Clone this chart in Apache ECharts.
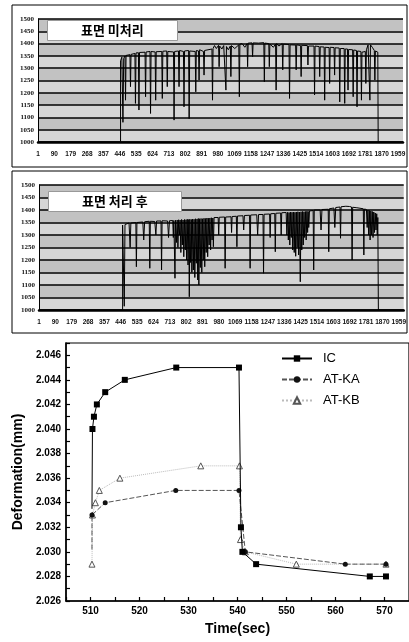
<!DOCTYPE html>
<html><head><meta charset="utf-8">
<script src="https://cdn.jsdelivr.net/npm/echarts@6/dist/echarts.min.js"></script>
<style>html,body{margin:0;padding:0;background:#fff}#c{width:409px;height:642px}</style>
</head><body><div id="c"></div>
<script>
// ---- Panel tick labels (Excel category labels, every 89 samples) ----
const panelXLabels = ['1','90','179','268','357','446','535','624','713','802','891','980','1069','1158','1247','1336','1425','1514','1603','1692','1781','1870','1959'];
const panelTitles = ['표면 미처리', '표면 처리 후'];

// ---- Panel 1: 표면 미처리 (sample index, value) ----
const untreated = [
[0,1000],[449,1000],[449,1330],[456,1345],[462,1080],[466,1340],
[473,1350],[476,1170],[479,1352],[500,1355],[503,1225],[506,1356],
[527,1360],[530,1157],[533,1362],[546,1363],[549,1130],[552,1364],
[582,1365],[585,1184],[588,1366],[609,1368],[612,1116],[615,1368],
[637,1366],[640,1170],[643,1367],[673,1368],[676,1177],[679,1369],
[700,1370],[703,1225],[706,1368],[737,1366],[740,1089],[743,1368],
[764,1370],[767,1225],[770,1372],[791,1368],[794,1143],[797,1370],
[819,1372],[822,1095],[825,1370],[855,1368],[858,1204],[861,1372],
[873,1370],[876,1252],[879,1375],[900,1368],[903,1272],[906,1372],
[946,1378],[949,1170],[952,1380],[960,1392],[970,1380],[982,1393],
[985,1306],[988,1390],[1000,1378],[1010,1392],[1019,1385],[1022,1211],
[1025,1388],[1035,1375],[1046,1390],[1049,1266],[1052,1392],[1070,1380],
[1092,1395],[1095,1184],[1098,1398],[1110,1400],[1125,1385],[1137,1400],
[1140,1306],[1143,1402],[1164,1403],[1167,1347],[1170,1403],[1200,1402],
[1228,1404],[1231,1245],[1234,1402],[1255,1400],[1258,1306],[1261,1398],
[1280,1385],[1292,1398],[1295,1211],[1298,1400],[1310,1390],[1328,1400],
[1331,1293],[1334,1398],[1365,1396],[1368,1177],[1371,1395],[1401,1394],
[1404,1293],[1407,1395],[1428,1392],[1431,1266],[1434,1393],[1465,1392],
[1468,1313],[1471,1390],[1501,1390],[1504,1191],[1507,1390],[1529,1388],
[1532,1266],[1535,1387],[1556,1386],[1559,1170],[1562,1385],[1583,1384],
[1586,1238],[1589,1385],[1610,1384],[1613,1272],[1616,1383],[1638,1382],
[1641,1163],[1644,1380],[1665,1380],[1668,1157],[1671,1378],[1683,1378],
[1686,1211],[1689,1376],[1711,1375],[1714,1184],[1717,1374],[1732,1372],
[1735,1143],[1738,1370],[1756,1368],[1759,1170],[1762,1365],[1780,1368],
[1783,1238],[1786,1375],[1795,1395],[1802,1402],[1805,1170],[1808,1395],
[1818,1385],[1829,1372],[1832,1252],[1835,1370],[1848,1365],[1850,1000],
[1985,1000]
];

// ---- Panel 2: 표면 처리 후 (sample index, value) ----
const treated = [
[0,1000],[455,1000],[455,1340],[460,1345],[464,1015],[468,1342],
[490,1348],[496,1250],[500,1348],[527,1350],[530,1173],[533,1350],
[565,1352],[570,1280],[575,1353],[600,1355],[603,1167],[606,1355],
[630,1354],[636,1300],[640,1356],[664,1356],[667,1160],[670,1357],
[700,1356],[705,1290],[710,1357],[728,1358],[731,1290],[734,1358],
[737,1358],[740,1127],[743,1359],
[746,1359],[748,1270],[752,1360],[756,1250],[760,1361],[764,1300],[768,1360],[772,1230],
[776,1362],[780,1260],[784,1360],[788,1213],[792,1362],[796,1240],[800,1361],[803,1200],
[807,1363],[811,1180],[815,1362],[818,1053],[821,1363],[825,1190],[829,1362],[832,1150],
[836,1364],[840,1160],[844,1363],[848,1130],[852,1365],[856,1187],[860,1364],[864,1120],
[867,1366],[870,1100],[874,1365],[878,1170],[882,1366],[886,1150],[890,1365],[894,1200],
[898,1367],[902,1173],[906,1366],[910,1230],[914,1368],[918,1213],[922,1367],[926,1260],
[930,1368],[934,1240],[938,1369],[942,1280],[946,1368],[949,1253],[953,1370],
[975,1370],[978,1300],[981,1371],[1010,1372],[1013,1167],[1016,1372],
[1045,1373],[1048,1310],[1051,1374],[1074,1375],[1077,1253],[1080,1376],
[1110,1377],[1114,1320],[1118,1378],[1146,1379],[1149,1167],[1152,1380],
[1185,1381],[1190,1300],[1195,1382],[1219,1382],[1222,1147],[1225,1383],
[1255,1384],[1258,1290],[1261,1385],[1283,1386],[1286,1233],[1289,1387],
[1315,1388],[1318,1300],[1321,1389],
[1345,1390],[1349,1300],[1353,1391],[1357,1280],[1361,1390],[1365,1260],[1369,1392],[1373,1290],
[1377,1391],[1381,1240],[1385,1392],[1389,1230],[1393,1391],[1397,1215],[1401,1392],[1405,1250],
[1409,1393],[1413,1220],[1417,1392],[1422,1113],[1426,1393],[1430,1240],[1434,1394],[1438,1260],
[1442,1393],[1446,1290],[1450,1394],[1454,1280],[1458,1395],[1462,1310],[1465,1394],[1468,1330],
[1472,1396],[1492,1398],[1495,1160],[1498,1400],[1530,1400],[1535,1320],[1540,1402],
[1574,1403],[1577,1233],[1580,1405],[1605,1408],[1610,1330],[1615,1410],
[1638,1412],[1641,1287],[1644,1413],[1670,1415],[1680,1416],[1690,1414],
[1701,1412],[1704,1200],[1707,1411],[1730,1409],[1740,1407],
[1765,1405],[1768,1220],[1771,1404],
[1782,1402],[1786,1330],[1790,1400],[1794,1300],[1798,1398],[1802,1280],[1806,1396],[1810,1300],
[1814,1394],[1818,1290],[1822,1392],[1826,1310],[1830,1388],[1834,1320],[1838,1385],[1841,1300],
[1844,1370],[1847,1000],[1985,1000]
];

// ---- Panel 3: Deformation vs time ----
const icTime  = [510.3, 510.4, 510.7, 511.3, 513.0, 517.0, 527.5, 540.3, 540.7, 541.0, 543.8, 567.0, 570.3];
const icDef   = [2.0335, 2.040, 2.041, 2.042, 2.043, 2.044, 2.045, 2.045, 2.032, 2.030, 2.029, 2.028, 2.028];
const kaTime  = [510.3, 510.3, 513.0, 527.4, 540.3, 541.6, 562.0, 570.3];
const kaDef   = [2.0302, 2.033, 2.034, 2.035, 2.035, 2.030, 2.029, 2.029];
const kbTime  = [510.3, 510.4, 511.0, 511.8, 516.0, 532.5, 540.4, 540.6, 541.6, 552.0, 570.3];
const kbDef   = [2.029, 2.033, 2.034, 2.035, 2.036, 2.037, 2.037, 2.031, 2.030, 2.029, 2.029];

const zip = (a, b, hideFirst) => a.map((x, i) => (hideFirst && i === 0) ? {value: [x, b[i]], symbol: 'none'} : [x, b[i]]);

const chart = echarts.init(document.getElementById('c'), null, {renderer: 'canvas'});

function panelX(gi) {
  return {
    gridIndex: gi, type: 'value', min: 0, max: 1985, interval: 89,
    axisLine: {show: true, onZero: false, lineStyle: {color: '#000', width: 2.5}},
    axisTick: {show: false},
    splitLine: {show: false},
    axisLabel: {
      margin: 9, fontSize: 6.5, fontWeight: 'bold', color: '#111', fontFamily: 'Liberation Sans',
      showMaxLabel: false,
      formatter: v => { const k = v / 89; return Number.isInteger(k) && panelXLabels[k] ? panelXLabels[k] : ''; }
    }
  };
}
function panelY(gi) {
  return {
    gridIndex: gi, type: 'value', min: 1000, max: 1500, interval: 50,
    axisLine: {show: true, lineStyle: {color: '#000', width: 1}},
    axisTick: {show: false},
    splitLine: {show: true, lineStyle: {color: '#000', width: 1.5}},
    splitArea: {show: true, areaStyle: {color: ['#d6d6d6', '#c2c2c2']}},
    axisLabel: {margin: 4, fontSize: 7, fontWeight: 'bold', color: '#111', fontFamily: 'Liberation Serif',
      formatter: v => String(Math.round(v))}
  };
}

const boldSans = {fontFamily: 'Liberation Sans', fontWeight: 'bold', color: '#000'};

chart.setOption({
  animation: false,
  backgroundColor: '#fff',
  title: [
    {text: panelTitles[0], left: 47, top: 20, padding: [4, 34], backgroundColor: '#fff', borderColor: '#999', borderWidth: 1,
     textStyle: {fontFamily: 'Noto Sans CJK KR', fontWeight: 'bold', fontSize: 13, color: '#000'}},
    {text: panelTitles[1], left: 48, top: 191, padding: [4, 34], backgroundColor: '#fff', borderColor: '#999', borderWidth: 1,
     textStyle: {fontFamily: 'Noto Sans CJK KR', fontWeight: 'bold', fontSize: 13, color: '#000'}}
  ],
  graphic: [
    {type: 'rect', shape: {x: 12, y: 5, width: 395, height: 162}, style: {fill: 'none', stroke: '#000', lineWidth: 1}, silent: true, z: 0},
    {type: 'rect', shape: {x: 12, y: 171, width: 395, height: 162}, style: {fill: 'none', stroke: '#000', lineWidth: 1}, silent: true, z: 0}
  ],
  legend: {
    data: ['IC', 'AT-KA', 'AT-KB'], orient: 'vertical', left: 281, top: 352, padding: 0,
    itemWidth: 30, itemHeight: 8, itemGap: 8,
    textStyle: {fontSize: 13, fontFamily: 'Liberation Sans', color: '#000', padding: [0, 0, 0, 6]}
  },
  grid: [
    {left: 38, top: 19, width: 365, height: 123},
    {left: 39, top: 185, width: 366, height: 125},
    {left: 66, top: 343, right: -10, height: 258, show: true, borderColor: '#000', borderWidth: 1.2, backgroundColor: 'transparent'}
  ],
  xAxis: [
    panelX(0), panelX(1),
    {
      gridIndex: 2, type: 'value', min: 505, max: 575, interval: 5,
      name: 'Time(sec)', nameLocation: 'middle', nameGap: 21,
      nameTextStyle: Object.assign({fontSize: 14}, boldSans),
      axisLine: {show: true, onZero: false, lineStyle: {color: '#000', width: 1.5}},
      axisTick: {show: true, inside: true, length: 4, lineStyle: {color: '#000', width: 1.2}},
      splitLine: {show: false},
      axisLabel: Object.assign({margin: 5, fontSize: 10, showMaxLabel: false,
        formatter: v => (Math.round(v) % 10 === 0 ? String(Math.round(v)) : '')}, boldSans)
    }
  ],
  yAxis: [
    panelY(0), panelY(1),
    {
      gridIndex: 2, type: 'value', min: 2.026, max: 2.047, interval: 0.001,
      name: 'Deformation(mm)', nameLocation: 'middle', nameGap: 40,
      nameTextStyle: Object.assign({fontSize: 14}, boldSans),
      axisLine: {show: true, lineStyle: {color: '#000', width: 1.5}},
      axisTick: {show: true, inside: true, length: 4, lineStyle: {color: '#000', width: 1.2}},
      splitLine: {show: false},
      axisLabel: Object.assign({margin: 5, fontSize: 10,
        formatter: v => { const k = Math.round(v * 1000); return k % 2 === 0 ? (k / 1000).toFixed(3) : ''; }}, boldSans)
    }
  ],
  series: [
    {type: 'line', xAxisIndex: 0, yAxisIndex: 0, data: untreated, showSymbol: false, symbol: 'none',
     lineStyle: {color: '#000', width: 1}, silent: true, z: 3},
    {type: 'line', xAxisIndex: 1, yAxisIndex: 1, data: treated, showSymbol: false, symbol: 'none',
     lineStyle: {color: '#000', width: 1}, silent: true, z: 3},
    {name: 'AT-KB', type: 'line', xAxisIndex: 2, yAxisIndex: 2, data: zip(kbTime, kbDef, false),
     symbol: 'triangle', symbolSize: 6,
     itemStyle: {color: '#fff', borderColor: '#555', borderWidth: 1},
     lineStyle: {color: '#bbb', width: 1, type: 'dotted'}, z: 3},
    {name: 'AT-KA', type: 'line', xAxisIndex: 2, yAxisIndex: 2, data: zip(kaTime, kaDef, true),
     symbol: 'circle', symbolSize: 5,
     itemStyle: {color: '#111'},
     lineStyle: {color: '#555', width: 1, type: [5, 2]}, z: 4},
    {name: 'IC', type: 'line', xAxisIndex: 2, yAxisIndex: 2, data: zip(icTime, icDef, true),
     symbol: 'rect', symbolSize: 6,
     itemStyle: {color: '#000'},
     lineStyle: {color: '#000', width: 1}, z: 5}
  ]
});
</script>
</body></html>
